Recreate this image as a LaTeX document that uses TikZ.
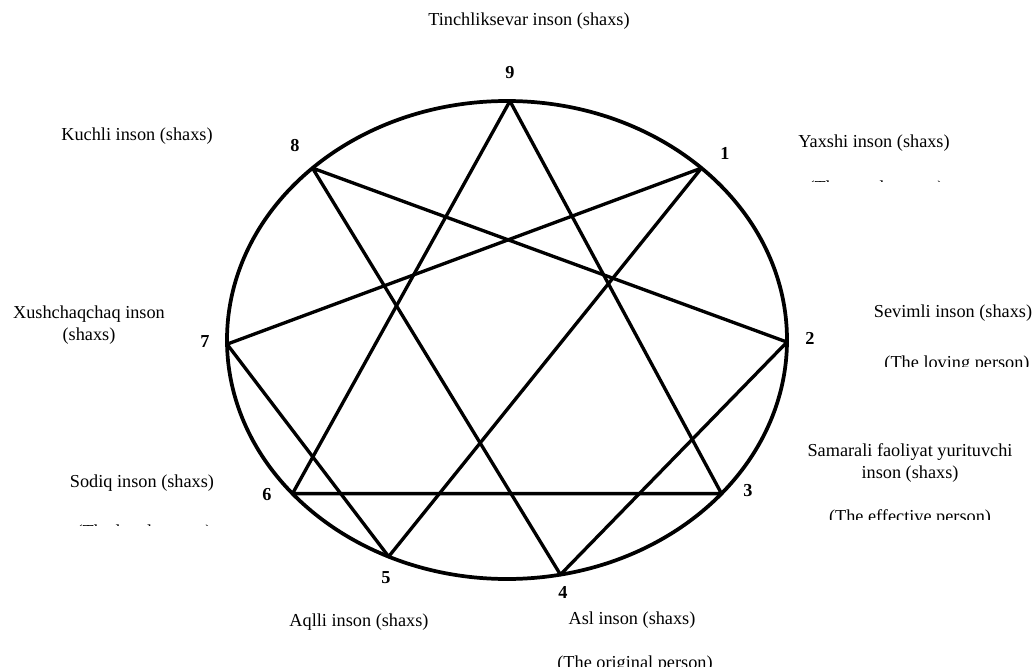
\documentclass[tikz,border=0pt]{standalone}
\usepackage{fontspec}
\setmainfont{Liberation Serif}
\tikzset{
  num/.style={font=\fontsize{13.7}{16}\selectfont\bfseries, inner sep=0pt},
  lbl/.style={align=center, inner sep=0pt, font=\fontsize{13.7}{16}\selectfont},
  wire/.style={line width=2.5pt, line join=round}
}
\begin{document}
\begin{tikzpicture}[x=0.75pt, y=-0.75pt]
	\useasboundingbox (0,0) rectangle (1036,667);
	% Ellipse and its nine points:
	\coordinate (c) at (507,340);
	\draw[line width=2.8pt] (c) ellipse [x radius=280, y radius=239];
	\path (c) ++(-89.4:280 and 239) coordinate (p9);
	\path (c) ++(-46:280 and 239) coordinate (p1);
	\path (c) ++(0.5:280 and 239) coordinate (p2);
	\path (c) ++(40:280 and 239) coordinate (p3);
	\path (c) ++(79:280 and 239) coordinate (p4);
	\path (c) ++(115:280 and 239) coordinate (p5);
	\path (c) ++(140:280 and 239) coordinate (p6);
	\path (c) ++(179:280 and 239) coordinate (p7);
	\path (c) ++(-134:280 and 239) coordinate (p8);
	% Lines:
	\draw[wire] (p9) -- (p3) -- (p6) -- cycle;
	\draw[wire] (p1) -- (p5) -- (p7) -- cycle;
	\draw[wire] (p8) -- (p4) -- (p2) -- cycle;
	% Numbers:
	\node[num] (n9) at (510,73) {9};
	\node[num] (n1) at (725,153) {1};
	\node[num] (n2) at (810,338) {2};
	\node[num] (n3) at (748,491) {3};
	\node[num] (n4) at (563,592) {4};
	\node[num] (n5) at (386,578) {5};
	\node[num] (n6) at (267,495) {6};
	\node[num] (n7) at (205,342) {7};
	\node[num] (n8) at (295,146) {8};
	% Labels:
	\node[lbl] (l9) at (529,21) {Tinchliksevar inson (shaxs)};
	\node[lbl] (l1) at (874,143) {Yaxshi inson (shaxs)};
	\node[lbl] (l2) at (953,313) {Sevimli inson (shaxs)};
	\node[lbl] (l3) at (910,463) {Samarali faoliyat yurituvchi\\inson (shaxs)};
	\node[lbl] (l4) at (632,620) {Asl inson (shaxs)};
	\node[lbl] (l5) at (359,622) {Aqlli inson (shaxs)};
	\node[lbl] (l6) at (142,483) {Sodiq inson (shaxs)};
	\node[lbl] (l7) at (89,325) {Xushchaqchaq inson\\(shaxs)};
	\node[lbl] (l8) at (137,136) {Kuchli inson (shaxs)};
	% Cut-off English names:
	\begin{scope}
		\clip (780,160) rectangle (980,181);
		\node[lbl] (e1) at (876,189) {(The good person)};
	\end{scope}
	\begin{scope}
		\clip (860,340) rectangle (1036,366);
		\node[lbl] (e2) at (957,364) {(The loving person)};
	\end{scope}
	\begin{scope}
		\clip (800,495) rectangle (1020,519);
		\node[lbl] (e3) at (910,518) {(The effective person)};
	\end{scope}
	\begin{scope}
		\clip (540,640) rectangle (730,667);
		\node[lbl] (e4) at (635,664) {(The original person)};
	\end{scope}
	\begin{scope}
		\clip (60,505) rectangle (230,525);
		\node[lbl] (e6) at (144,533) {(The loyal person)};
	\end{scope}
\end{tikzpicture}
\end{document}
